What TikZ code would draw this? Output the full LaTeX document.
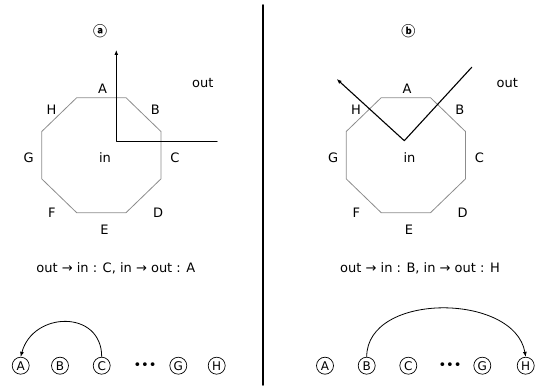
\documentclass[tikz,border=0pt]{standalone}
\usepackage{fontspec}
\setmainfont{DejaVu Sans}
\newfontfamily\cjk{Noto Sans CJK KR}
\usetikzlibrary{positioning,calc,arrows.meta}
\tikzset{>={Latex[length=5pt,width=4pt]}}

\begin{document}
\begin{tikzpicture}[x=1pt, y=1pt, line cap=round, line join=round,
  octa/.style={draw=black!45, line width=0.8pt},
  lbl/.style={font=\fontsize{13}{15}\selectfont, inner sep=0pt},
  tag/.style={font=\cjk\bfseries\fontsize{14}{16}\selectfont, inner sep=0pt},
  vtx/.style={circle, draw, line width=0.7pt, minimum size=17pt, inner sep=0pt,
    font=\fontsize{12}{13}\selectfont},
  ray/.style={line width=1.1pt, ->}]
  \useasboundingbox (0,0) rectangle (540,385);

  % Panel centres
  \coordinate (Oa) at (101.35,229.8);
  \coordinate (Ob) at (405.85,229.8);

  % Octagons with their side names
  \foreach \O in {Oa,Ob}{
    \begin{scope}[shift={(\O)}]
      \draw[octa] (-24.65,57.5) -- (24.65,57.5) -- (59.65,23.65) -- (59.65,-23.65)
        -- (24.65,-57.5) -- (-24.65,-57.5) -- (-59.65,-23.65) -- (-59.65,23.65) -- cycle;
      \foreach \s/\dx/\dy in {A/1.3/66.2, B/53.9/45.2, C/73.6/-2.8, D/56.8/-57.8,
                              E/3.1/-74.8, F/-49.5/-57.8, G/-72.8/-2.8, H/-49.8/45.2}
        \node[lbl] (\O\s) at (\dx,\dy) {\s};
      \node[lbl] (\O in) at (3.7,-2.8) {in};
      \node[lbl] (\O out) at (101.4,72.5) {out};
    \end{scope}
  }

  % Panel marks
  \node[tag] (ma) at (100,354.3) {ⓐ};
  \node[tag] (mb) at (408.3,354.3) {ⓑ};

  % Divider
  \coordinate (top) at (263,380);
  \coordinate (bot) at (263,0);
  \draw[line width=1.6pt] (top) -- (bot);

  % Rays
  \coordinate (a0) at (116.3,243.3);
  \coordinate (a1) at (116.3,335);
  \coordinate (a2) at (217,243.3);
  \draw[ray] (a2) -- (a0) -- (a1);

  \coordinate (b0) at (404.3,244.3);
  \coordinate (b1) at (471.7,317.7);
  \coordinate (b2) at (336.7,306);
  \draw[ray] (b1) -- (b0) -- (b2);

  % Crossing summaries
  \node[lbl] (sa) at (115.8,116.7) {out → in : C, in → out : A};
  \node[lbl] (sb) at (420,116.7) {out → in : B, in → out : H};

  % Bottom rows
  \foreach \s/\x in {A/20.7, B/60, C/101.7, G/178.3, H/216.7}
    \node[vtx] (a\s) at (\x,19.3) {\s};
  \node[lbl] (adots) at (145,19.3) {•••};
  \draw[->, line width=0.8pt] (aC.north) to[out=90, in=75, looseness=1.5] (aA.north);

  \foreach \s/\x in {A/325, B/366.7, C/408.3, G/482.3, H/525.7}
    \node[vtx] (b\s) at (\x,19.3) {\s};
  \node[lbl] (bdots) at (450,19.3) {•••};
  \draw[->, line width=0.8pt] (bB.north) to[out=90, in=100, looseness=1.05] (bH.north);
\end{tikzpicture}
\end{document}
